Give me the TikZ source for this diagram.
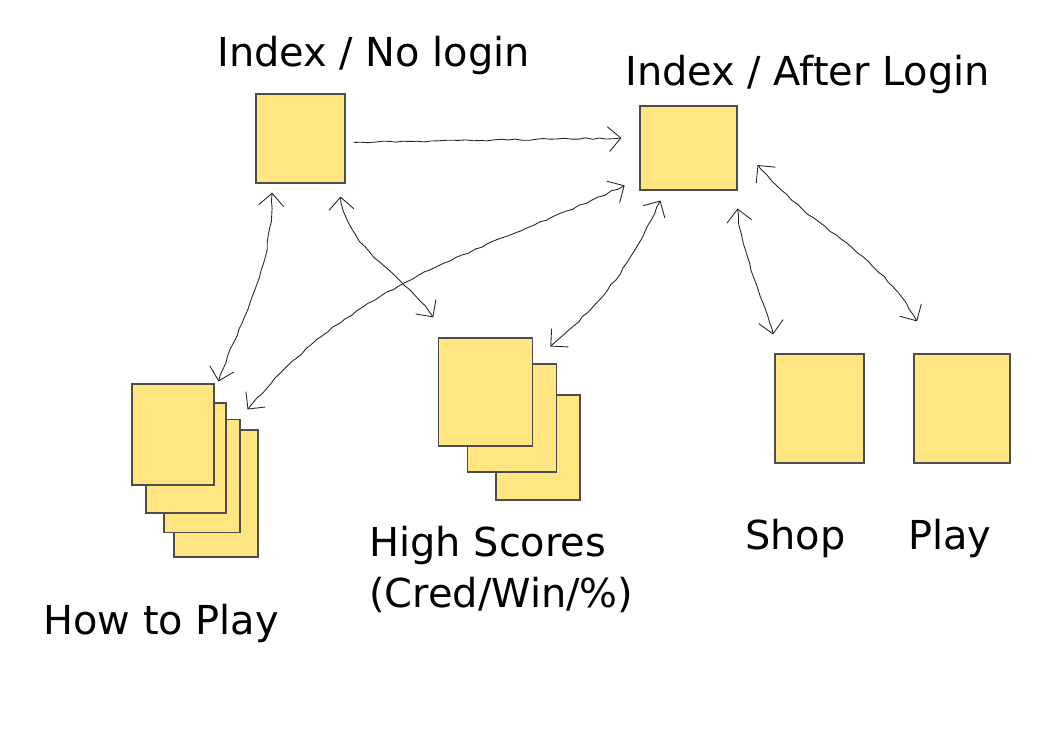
\documentclass[tikz,border=0pt]{standalone}
\usepackage{fontspec}
\setmainfont{DejaVu Sans}
\usetikzlibrary{arrows.meta}
\usetikzlibrary{calc}
\usetikzlibrary{decorations.pathmorphing}
\usetikzlibrary{positioning}
\definecolor{sheetfill}{HTML}{FFE680}
\definecolor{sheetline}{HTML}{4D4D4D}
\tikzset{
sheet/.style 2 args = {draw=sheetline, fill=sheetfill, line width=0.6pt,
                       inner sep=0pt, minimum width=#1*0.02cm, minimum height=#2*0.02cm},
title/.style = {anchor=base west, inner sep=0pt, font=\fontsize{22.7}{29}\selectfont},
link/.style = {draw=black!85, line width=0.5pt,
               decorate, decoration={random steps, segment length=4pt, amplitude=0.45pt}},
both/.style = {{Straight Barb[angle=90:10pt]}-{Straight Barb[angle=90:10pt]}},
}

\begin{document}
\begin{tikzpicture}[x=0.02cm, y=-0.02cm]
        \pgfmathsetseed{7}
        \useasboundingbox (0,0) rectangle (1053,745);

        % pages
        \node[sheet={89}{89}] (noLogin) at (300.5,138.5) {};
        \node[sheet={97}{84}] (afterLogin) at (688.5,148) {};
        \node[sheet={84}{127}] (howD) at (216,493.5) {};
        \node[sheet={76}{113}] (howC) at (202,476) {};
        \node[sheet={80}{110}] (howB) at (186,458) {};
        \node[sheet={82}{101}] (howA) at (173,434.5) {};
        \node[sheet={84}{105}] (scoreC) at (538,447.5) {};
        \node[sheet={89}{108}] (scoreB) at (512,418) {};
        \node[sheet={94}{108}] (scoreA) at (485.7,392) {};
        \node[sheet={89}{109}] (shop) at (819.5,408.5) {};
        \node[sheet={96}{109}] (play) at (962,408.5) {};

        % titles
        \node[title] (noLoginLbl) at (217,66) {Index / No login};
        \node[title] (afterLoginLbl) at (625,85) {Index / After Login};
        \node[title] (howLbl) at (43,634) {How to Play};
        \node[title, align=left] (scoreLbl) at (369,607) {High Scores\\(Cred/Win/\%)};
        \node[title] (shopLbl) at (745,549) {Shop};
        \node[title] (playLbl) at (908,549) {Play};

        % links
        \path
        ($(noLogin.east)+(8,4)$) edge[link, -{Straight Barb[angle=90:10pt]}] ($(afterLogin.west)+(-18,-10)$)
        ($(howA.north east)+(4,-2)$) edge[link, both, out=70, in=-90] ($(noLogin.south)+(-28.5,9)$)
        ($(noLogin.south east)+(-5,13)$) edge[link, both, out=-80, in=125] ($(scoreA.north west)+(-5,-20)$)
        ($(howB.north east)+(21,7)$) edge[link, both, out=50, in=205] ($(afterLogin.south west)+(-15,-5)$)
        ($(afterLogin.south)+(-28,10)$) edge[link, both, out=-115, in=40] ($(scoreA.north east)+(17,9)$)
        ($(afterLogin.south east)+(0,18)$) edge[link, both, out=-85, in=105] ($(shop.north)+(-46.5,-19)$)
        ($(afterLogin.east)+(20,17)$) edge[link, both, out=-50, in=120] ($(play.north)+(-45,-32)$);
\end{tikzpicture}
\end{document}
